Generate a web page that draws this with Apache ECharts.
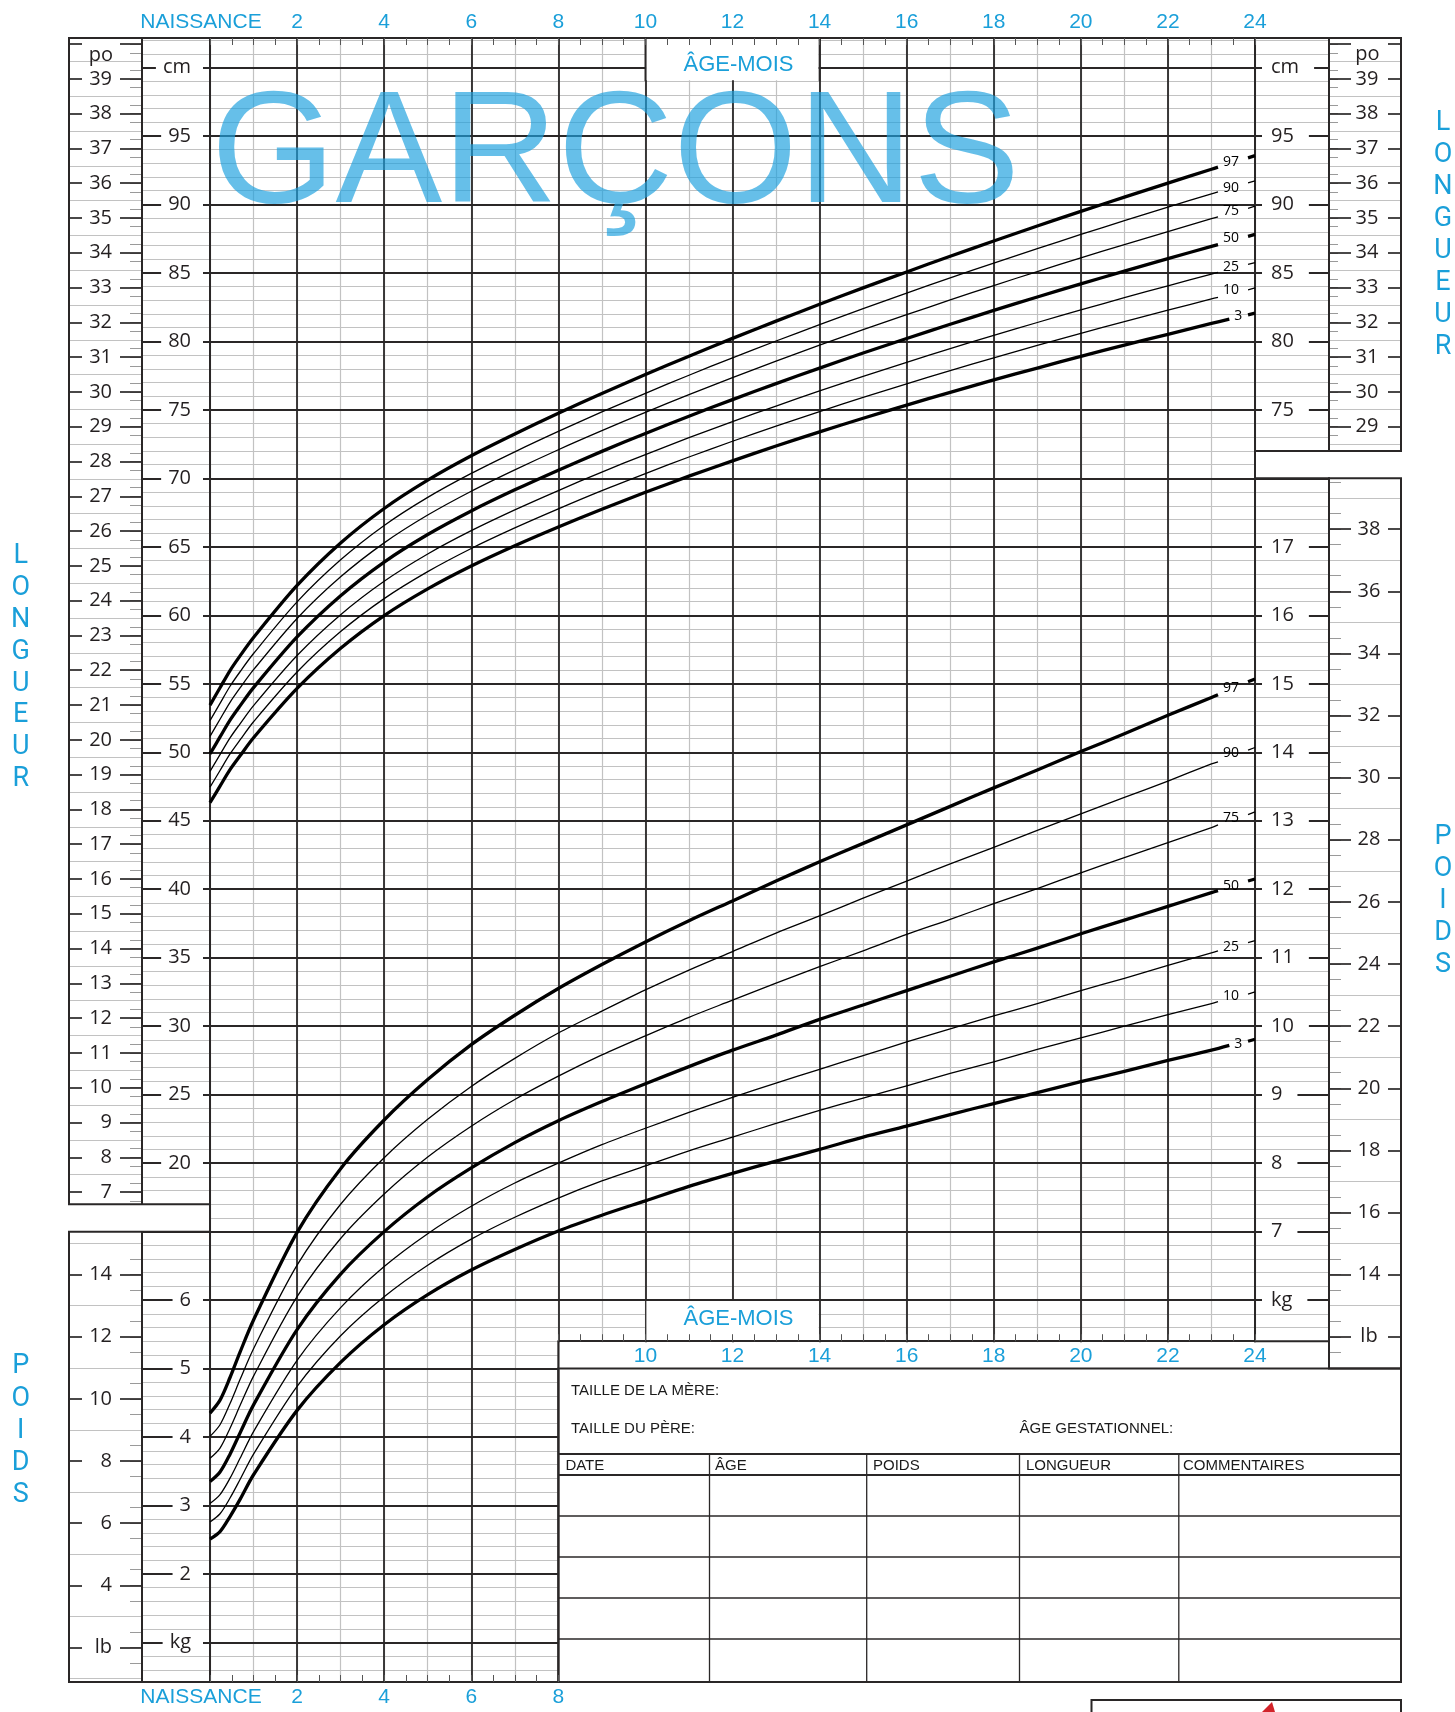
<!DOCTYPE html>
<html><head><meta charset="utf-8">
<script src="https://cdn.jsdelivr.net/npm/echarts@6/dist/echarts.min.js"></script>
<style>html,body{margin:0;padding:0;background:#fff}#c{width:1455px;height:1712px}</style>
</head><body><div id="c"></div>
<script>
// ---------------- DATA ----------------
const pctLabels = ['3','10','25','50','75','90','97'];
const thick = [true,false,false,true,false,false,true];
const ages = [0,0.23,0.46,0.69,1,2,3,4,5,6,7,8,9,10,11,12,13,14,15,16,17,18,19,20,21,22,23];
const endAges = [23.41,23.15,23.15,23.15,23.15,23.15,23.15];
const stubAges = [23.84,24];

const lenP3  = [46.32,47.53,48.73,49.74,51.06,54.66,57.59,59.98,61.93,63.60,65.08,66.45,67.75,68.98,70.16,71.28,72.36,73.39,74.39,75.35,76.28,77.19,78.05,78.91,79.73,80.52,81.31,81.62];
const lenP10 = [47.45,48.67,49.88,50.90,52.23,55.86,58.81,61.22,63.19,64.88,66.38,67.77,69.10,70.35,71.56,72.71,73.81,74.88,75.91,76.90,77.87,78.80,79.71,80.59,81.45,82.28,83.10,83.22];
const lenP25 = [48.60,49.83,51.05,52.08,53.41,57.07,60.05,62.49,64.48,66.18,67.70,69.11,70.46,71.74,72.97,74.15,75.28,76.38,77.44,78.47,79.47,80.44,81.38,82.30,83.19,84.06,84.92,85.04];
const lenP50 = [49.88,51.12,52.35,53.39,54.72,58.42,61.43,63.89,65.90,67.62,69.16,70.60,71.97,73.28,74.54,75.75,76.92,78.05,79.15,80.21,81.25,82.26,83.24,84.20,85.13,86.04,86.94,87.07];
const lenP75 = [51.16,52.41,53.65,54.70,56.03,59.77,62.81,65.29,67.32,69.06,70.62,72.09,73.48,74.82,76.11,77.35,78.56,79.72,80.86,81.95,83.03,84.08,85.10,86.10,87.07,88.02,88.96,89.10];
const lenP90 = [52.31,53.57,54.82,55.88,57.21,60.98,64.05,66.56,68.61,70.36,71.94,73.43,74.85,76.21,77.53,78.80,80.03,81.22,82.39,83.52,84.64,85.72,86.77,87.81,88.81,89.80,90.78,90.92];
const lenP97 = [53.44,54.71,55.97,57.04,58.38,62.18,65.28,67.80,69.87,71.65,73.24,74.75,76.19,77.58,78.92,80.22,81.48,82.71,83.91,85.07,86.22,87.33,88.43,89.49,90.53,91.56,92.57,92.72];
const lenStubStart = [81.94,83.77,85.62,87.67,89.72,91.57,93.40];
const lenStubEnd   = [82.06,83.90,85.75,87.81,89.87,91.72,93.56];

const wtP3  = [2.51,2.62,2.84,3.09,3.45,4.39,5.09,5.64,6.08,6.44,6.74,7.01,7.24,7.45,7.66,7.85,8.03,8.20,8.38,8.54,8.71,8.87,9.03,9.19,9.34,9.50,9.65,9.72];
const wtP10 = [2.76,2.88,3.11,3.38,3.75,4.74,5.48,6.05,6.51,6.89,7.21,7.49,7.74,7.96,8.18,8.38,8.58,8.77,8.95,9.13,9.31,9.48,9.66,9.83,10.00,10.17,10.33,10.36];
const wtP25 = [3.03,3.16,3.40,3.69,4.08,5.12,5.89,6.49,6.97,7.37,7.71,8.00,8.27,8.51,8.74,8.96,9.17,9.37,9.57,9.77,9.96,10.15,10.33,10.52,10.70,10.89,11.07,11.10];
const wtP50 = [3.35,3.49,3.75,4.06,4.47,5.57,6.38,7.00,7.51,7.93,8.30,8.62,8.90,9.16,9.41,9.65,9.87,10.10,10.31,10.52,10.73,10.94,11.14,11.35,11.55,11.75,11.95,11.98];
const wtP75 = [3.69,3.84,4.13,4.46,4.89,6.05,6.90,7.55,8.09,8.54,8.93,9.27,9.58,9.86,10.13,10.38,10.63,10.87,11.10,11.34,11.56,11.79,12.01,12.24,12.46,12.68,12.90,12.94];
const wtP90 = [4.01,4.18,4.49,4.84,5.29,6.51,7.40,8.08,8.64,9.12,9.53,9.90,10.22,10.53,10.82,11.09,11.36,11.61,11.87,12.12,12.37,12.61,12.86,13.10,13.34,13.58,13.83,13.86];
const wtP97 = [4.35,4.54,4.87,5.24,5.71,6.99,7.92,8.63,9.22,9.73,10.16,10.55,10.90,11.23,11.54,11.83,12.12,12.40,12.67,12.94,13.21,13.48,13.74,14.01,14.27,14.54,14.80,14.84];
const wtStubStart = [9.78,10.47,11.22,12.12,13.09,14.03,15.03];
const wtStubEnd   = [9.81,10.50,11.25,12.15,13.13,14.07,15.07];

const lenSeries = [lenP3,lenP10,lenP25,lenP50,lenP75,lenP90,lenP97];
const wtSeries  = [wtP3,wtP10,wtP25,wtP50,wtP75,wtP90,wtP97];

// text
const titleText = 'GARÇONS';
const ageAxisTitle = 'ÂGE-MOIS';
const birthLabel = 'NAISSANCE';
const tableHeaders = ['DATE','ÂGE','POIDS','LONGUEUR','COMMENTAIRES'];

// ---------------- LAYOUT ----------------
const LIGHT='#c2c2c2', DARK='#2a2727', BLUE='#1a9fd9', TICKG='#9a9a9a';
const X0=210, X24=1255, XL0=69, XL1=142, XR1=1329, XR2=1401, YT=38, YB=1682;
const CM_MIN=-20, CM_MAX=105, GT=-1, GH=1712;
const pxCm = GH/(CM_MAX-CM_MIN);
const cmToY = c => GT + (CM_MAX-c)*pxCm;
const kgToY = k => cmToY((k-4)*5);
const ageToX = a => X0 + a*(X24-X0)/24;
const SHIFT = -1.5;
const poY = i => cmToY(i*2.54) + SHIFT;
const lbY = l => kgToY(l*0.45359237) + SHIFT;
const X8 = ageToX(8);
const yUL = cmToY(17), yLL = cmToY(15), yUR = cmToY(72), yLR = cmToY(70), yKgEnd = cmToY(7), yTab = cmToY(5);

const grids = [
  {left:X0, top:GT, width:X24-X0, height:GH},
  {left:X0, top:YT, width:X24-X0, height:30},
  {left:X0, top:YB-30, width:X8-X0, height:30},
  {left:X8, top:yKgEnd-30, width:X24-X8, height:30},
  {left:XL1, top:GT, width:X0-XL1, height:GH},
  {left:X24, top:GT, width:XR1-X24, height:GH},
  {left:XL0, top:poY(41), width:XL1-XL0, height:poY(6)-poY(41)},
  {left:XL0, top:lbY(16), width:XL1-XL0, height:lbY(0)-lbY(16)},
  {left:XR1, top:poY(41), width:XR2-XR1, height:poY(28)-poY(41)},
  {left:XR1, top:lbY(40), width:XR2-XR1, height:lbY(10)-lbY(40)}
].map(g => Object.assign({show:false, containLabel:false, outerBoundsMode:'none'}, g));

function ax(o){
  return Object.assign({type:'value', silent:true, axisLine:{show:false,onZero:false}, axisTick:{show:false},
    axisLabel:{show:false}, splitLine:{show:false}, minorTick:{show:false}, minorSplitLine:{show:false}}, o);
}
const ageFmt = lo => v => (v===0 ? '{n|'+birthLabel+'}' : (v>=lo && Math.abs(v%2)<1e-9 ? String(v) : ''));
const ageLabel = (lo, margin) => ({show:true, margin, color:BLUE, fontSize:21, fontFamily:'Liberation Sans',
  showMinLabel:true, showMaxLabel:true, formatter:ageFmt(lo),
  rich:{n:{color:BLUE, fontSize:21, fontFamily:'Liberation Sans', padding:[0,18,0,0]}}});
const tickAxisLine = {show:true, onZero:false, lineStyle:{color:DARK, width:2}};
const halfTicks = {show:true, inside:true, length:7, lineStyle:{color:'#555', width:1}};

const xAxes = [
  ax({gridIndex:0, position:'bottom', min:0, max:24, interval:1, z:0, splitLine:{show:true, lineStyle:{color:LIGHT, width:1.2}}}),
  ax({gridIndex:0, position:'bottom', min:0, max:24, interval:2, z:1, splitLine:{show:true, lineStyle:{color:DARK, width:1.8}}}),
  ax({gridIndex:1, position:'top', min:0, max:24, interval:0.5, z:5, axisLine:tickAxisLine, axisTick:halfTicks, axisLabel:ageLabel(2,5)}),
  ax({gridIndex:2, position:'bottom', min:0, max:8, interval:0.5, z:5, axisLine:tickAxisLine, axisTick:halfTicks, axisLabel:ageLabel(2,5)}),
  ax({gridIndex:3, position:'bottom', min:8, max:24, interval:0.5, z:5, axisLine:tickAxisLine, axisTick:halfTicks, axisLabel:ageLabel(10,4)})
];
for (let g=4; g<=9; g++) xAxes.push(ax({gridIndex:g, position:'bottom', show:false, min:0, max:1}));

const numFont = {fontSize:20, fontFamily:'Open Sans', color:'#231f20'};
const cmLeftFmt = v => v===100?'cm':(v>=20&&v<=95?String(v):(v>=-10&&v<=10?String(v/5+4):(v===-15?'kg':'')));
const cmRightFmt = v => v===100?'cm':(v>=75&&v<=95?String(v):(v>=15&&v<=65?String(v/5+4):(v===10?'kg':'')));

const yAxes = [
  ax({gridIndex:0, position:'left', min:CM_MIN, max:CM_MAX, interval:1, z:0, splitLine:{show:true, lineStyle:{color:LIGHT, width:1.2}}}),
  ax({gridIndex:0, position:'left', min:CM_MIN, max:CM_MAX, interval:5, z:1, splitLine:{show:true, lineStyle:{color:DARK, width:1.8}}}),
  ax({gridIndex:0, position:'right', min:0, max:25, show:false}),
  ax({gridIndex:1, position:'left', show:false, min:0, max:1}),
  ax({gridIndex:2, position:'left', show:false, min:0, max:1}),
  ax({gridIndex:3, position:'left', show:false, min:0, max:1})
];
// cm / kg label columns
[[4,'left',cmLeftFmt,61,'right',[0,12,0,7]],[5,'right',cmRightFmt,67,'left',[0,15,0,9]]].forEach(([g,pos,fmt,margin,align,pad]) => {
  yAxes.push(ax({gridIndex:g, position:pos, min:CM_MIN, max:CM_MAX, interval:1, z:0,
    splitLine:{show:true, showMinLine:false, showMaxLine:false, lineStyle:{color:LIGHT, width:1.2}}}));
  yAxes.push(ax({gridIndex:g, position:pos, min:CM_MIN, max:CM_MAX, interval:5, z:1,
    splitLine:{show:true, showMinLine:false, showMaxLine:false, lineStyle:{color:DARK, width:1.8}}}));
  yAxes.push(ax({gridIndex:g, position:pos, min:CM_MIN, max:CM_MAX, interval:5, z:2,
    axisLabel:Object.assign({show:true, inside:true, margin, align, formatter:fmt, backgroundColor:'#fff', padding:pad, lineHeight:18, showMinLabel:true, showMaxLabel:true}, numFont)}));
});
// po / lb columns: [grid, min, max, step, outerSide, innerSide, labelFmt, labelMargin, labelAlign, shortTickLen]
const scaleCols = [
  [6, 6, 41, 1, 'left','right', v => (v>=7&&v<=39)?String(v):'', 43, 'right', 12],
  [7, 0, 16, 2, 'left','right', v => v===2?'lb':((v>=4&&v<=14)?String(v):''), 43, 'right', 12],
  [8, 28, 41, 1, 'right','left', v => (v>=29&&v<=39)?String(v):'', 34, 'center', 9],
  [9, 10, 40, 2, 'right','left', v => v===12?'lb':((v>=14&&v<=38)?String(v):''), 32, 'center', 12]
];
scaleCols.forEach(([g,mn,mx,step,outer,inner,fmt,margin,align,shortLen]) => {
  yAxes.push(ax({gridIndex:g, position:outer, min:mn, max:mx, interval:step, z:1,
    axisTick:{show:true, inside:true, length:13, lineStyle:{color:DARK, width:1.7}},
    minorTick:{show:false, splitNumber:2},
    minorSplitLine:{show:true, lineStyle:{color:LIGHT, width:1.2}},
    axisLabel:Object.assign({show:true, inside:true, margin, align, formatter:fmt, showMinLabel:true, showMaxLabel:true}, numFont)}));
  yAxes.push(ax({gridIndex:g, position:inner, min:mn, max:mx, interval:step/4, z:0,
    axisTick:{show:true, inside:true, length:shortLen, lineStyle:{color:TICKG, width:1}}}));
  yAxes.push(ax({gridIndex:g, position:inner, min:mn, max:mx, interval:step, z:1,
    axisTick:{show:true, inside:true, length:22, lineStyle:{color:DARK, width:1.7}}}));
});

// ---------------- SERIES ----------------
const lenDy = [-3,-7,-5,-7,-6,-4,-5];
const wtDy  = [-1,-6,-4,-5,-7,-9,-7];
const series = [];
pctLabels.forEach((p,i) => {
  [[lenSeries,0,lenDy,lenStubStart,lenStubEnd],[wtSeries,2,wtDy,wtStubStart,wtStubEnd]].forEach(([arr,yi,dy,s0,s1]) => {
    const vals = arr[i];
    const data = ages.map((a,k) => [a, vals[k]]);
    data.push([endAges[i], vals[vals.length-1]]);
    const w = thick[i] ? 3.3 : 1.3;
    series.push({type:'line', xAxisIndex:0, yAxisIndex:yi, data, smooth:0.3,
      symbol:'none', showSymbol:false, silent:true, z:6, animation:false,
      lineStyle:{color:'#000', width:w, join:'round'},
      endLabel:{show:true, formatter:p, color:'#000', fontSize:14, fontFamily:'Open Sans', distance:5, offset:[0,dy[i]]}});
    series.push({type:'line', xAxisIndex:0, yAxisIndex:yi, data:[[stubAges[0],s0[i]],[stubAges[1],s1[i]]],
      symbol:'none', silent:true, z:6, animation:false, lineStyle:{color:'#000', width:w}});
  });
});

// ---------------- GRAPHICS ----------------
const G = [];
const cover = (x,y,w,h) => G.push({type:'rect', z:3, silent:true, shape:{x,y,width:w,height:h}, style:{fill:'#fff'}});
const line = (x1,y1,x2,y2,w,c) => G.push({type:'line', z:4, silent:true, shape:{x1,y1,x2,y2}, style:{stroke:c||DARK, lineWidth:w||2}});
const box = (x,y,w,h,lw) => G.push({type:'rect', z:4, silent:true, shape:{x,y,width:w,height:h}, style:{fill:'none', stroke:DARK, lineWidth:lw||2}});
const text = (t,x,y,o) => G.push({type:'text', z:(o&&o.z)||7, silent:true, x, y, style:Object.assign({text:t, fill:'#231f20', fontSize:20, fontFamily:'Open Sans', align:'center', verticalAlign:'middle'}, o||{})});

// covers
cover(0,0,1455,YT-1);
cover(0,YB+1,1455,40);
cover(60,yUL,X0-1-60,yLL-yUL);
cover(X24+1,yUR,160,yLR-yUR);
cover(X8+1,yKgEnd+1,XR1-X8-1,yTab-yKgEnd);
cover(X8+1,yTab,500+XR2,YB-yTab+1);
cover(ageToX(10)+1,YT+1,ageToX(14)-ageToX(10)-2,cmToY(99)-YT-2);
cover(ageToX(10)+1,kgToY(6)+1,ageToX(14)-ageToX(10)-2,yKgEnd-kgToY(6)-2);

// frames
line(XL0,YT,XR2,YT,2);
box(XL0,YT,X0-XL0,yUL-YT); line(XL1,YT,XL1,yUL,2);
box(XL0,yLL,X0-XL0,YB-yLL); line(XL1,yLL,XL1,YB,2);
line(XL0,YB,XR2,YB,2);
line(X0,YT,X0,YB,2);
box(X24,YT,XR2-X24,yUR-YT); line(XR1,YT,XR1,yUR,2);
box(X24,yLR,XR1-X24,yKgEnd-yLR); box(XR1,yLR,XR2-XR1,yTab-yLR);
line(X24,YT,X24,yKgEnd,2);
line(ageToX(10),YT,ageToX(10),cmToY(99),1.8); line(ageToX(14),YT,ageToX(14),cmToY(99),1.8);
// table
box(X8,yTab,XR2-X8,YB-yTab);
line(X8,yKgEnd,X8,YB,2);
const rowY = [1454,1475,1516,1557,1598,1639];
rowY.forEach((y,k) => line(X8,y,XR2,y,k<2?2:1.6));
const colX = [709.5,866.7,1019.5,1178.8];
colX.forEach(x => line(x,1454,x,YB,1.3));
const tFont = {fontSize:15, fontFamily:'Liberation Sans', align:'left', fill:'#1a1a1a'};
text('TAILLE DE LA MÈRE:',571,1391,tFont);
text('TAILLE DU PÈRE:',571,1429,tFont);
text('ÂGE GESTATIONNEL:',1019.5,1429,tFont);
[565.4,715,873,1026,1183].forEach((x,k) => text(tableHeaders[k],x,1466,tFont));
// logo box
box(1091.5,1700,XR2-1091.5,40);
G.push({type:'polygon', z:7, silent:true, shape:{points:[[1262,1712],[1272,1702],[1275,1712]]}, style:{fill:'#d2232a'}});

// title & labels
text(titleText,211,158,{fontSize:160, fontFamily:'Liberation Sans', align:'left', fill:'rgba(30,160,222,0.68)', z:4});
text(ageAxisTitle,738.5,64.5,{fontSize:22, fontFamily:'Liberation Sans', fill:BLUE});
text(ageAxisTitle,738.5,1319,{fontSize:22, fontFamily:'Liberation Sans', fill:BLUE});
text('po',101,55); text('po',1367.5,54);
const vword = (w,x,y0,dy) => w.split('').forEach((ch,k) => text(ch,x,y0+k*dy,{fontSize:27, fontFamily:'Roboto', fill:BLUE}));
vword('LONGUEUR',20.7,556.7,31.8);
vword('POIDS',20.7,1366.6,32.2);
vword('LONGUEUR',1443,123.3,31.95);
vword('POIDS',1443,837.2,31.9);

const chart = echarts.init(document.getElementById('c'), null, {renderer:'canvas'});
chart.setOption({
  animation:false,
  backgroundColor:'#fff',
  grid:grids,
  xAxis:xAxes,
  yAxis:yAxes,
  series,
  graphic:{elements:G}
});
</script>
</body></html>
